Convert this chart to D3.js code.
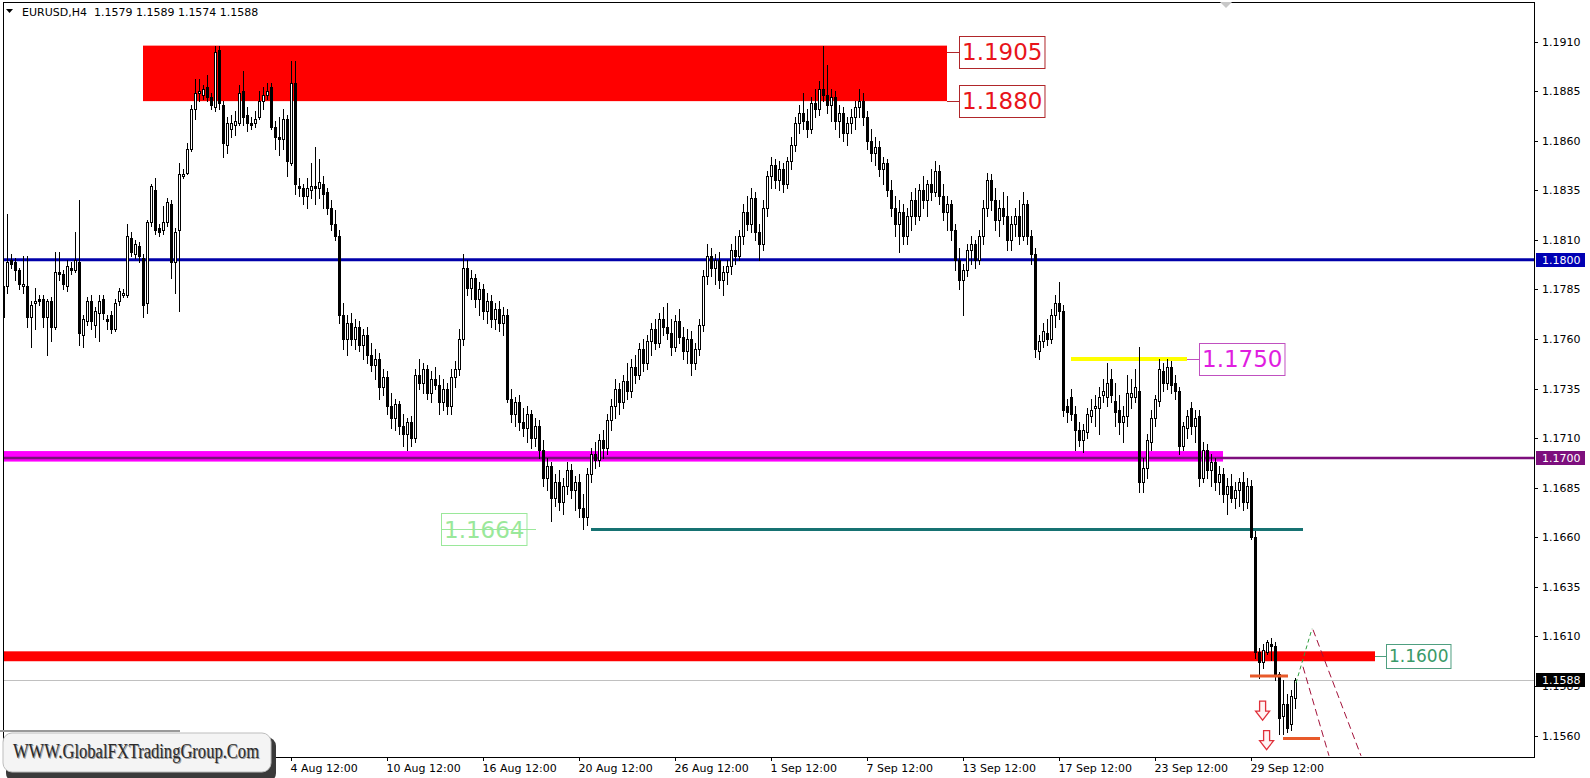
<!DOCTYPE html>
<html><head><meta charset="utf-8">
<script src="https://cdn.jsdelivr.net/npm/d3@7"></script>
<style>html,body{margin:0;padding:0;background:#fff;overflow:hidden}</style>
</head><body>
<svg id="c" width="1590" height="778" xmlns="http://www.w3.org/2000/svg"></svg>
<script>
// ---------- DATA ----------
const symbol = "EURUSD,H4";
const lastOHLC = [1.1579, 1.1589, 1.1574, 1.1588];
const priceTicks = [1.1910,1.1885,1.1860,1.1835,1.1810,1.1785,1.1760,1.1735,1.1710,1.1685,1.1660,1.1635,1.1610,1.1585,1.1560];
const timeTickBars = [72,96,120,144,168,192,216,240,264,288,312];
const timeTickLabels = ["4 Aug 12:00","10 Aug 12:00","16 Aug 12:00","20 Aug 12:00","26 Aug 12:00","1 Sep 12:00","7 Sep 12:00","13 Sep 12:00","17 Sep 12:00","23 Sep 12:00","29 Sep 12:00"];

// bars 0..81
const opensA =[1.1771,1.1787,1.1800,1.1799,1.1795,1.1787,1.1787,1.1771,1.1778,1.1780,1.1780,1.1771,1.1779,1.1766,1.1794,1.1793,1.1787,1.1796,1.1795,1.1799,1.1762,1.1769,1.1779,1.1767,1.1773,1.1780,1.1770,1.1772,1.1765,1.1779,1.1782,1.1782,1.1811,1.1803,1.1807,1.1801,1.1778,1.1819,1.1835,1.1816,1.1815,1.1819,1.1828,1.1799,1.1815,1.1842,1.1844,1.1856,1.1876,1.1884,1.1883,1.1887,1.1882,1.1877,1.1906,1.1878,1.1858,1.1866,1.1868,1.1869,1.1885,1.1873,1.1869,1.1869,1.1872,1.1880,1.1883,1.1887,1.1867,1.1862,1.1861,1.1871,1.1849,1.1889,1.1837,1.1836,1.1832,1.1835,1.1837,1.1836,1.1838,1.1834];
const highsA =[1.1789,1.1823,1.1803,1.1801,1.1796,1.1802,1.1802,1.1779,1.1786,1.1782,1.1782,1.1780,1.1781,1.1804,1.1804,1.1795,1.1800,1.1799,1.1814,1.1830,1.1772,1.1781,1.1782,1.1776,1.1782,1.1782,1.1772,1.1774,1.1780,1.1786,1.1785,1.1818,1.1814,1.1810,1.1809,1.1803,1.1820,1.1838,1.1841,1.1818,1.1827,1.1831,1.1830,1.1816,1.1849,1.1846,1.1859,1.1878,1.1891,1.1891,1.1888,1.1893,1.1884,1.1908,1.1908,1.1880,1.1872,1.1873,1.1875,1.1888,1.1895,1.1877,1.1872,1.1875,1.1885,1.1887,1.1889,1.1889,1.1870,1.1872,1.1876,1.1873,1.1900,1.1900,1.1841,1.1838,1.1841,1.1849,1.1857,1.1851,1.1842,1.1836];
const lowsA  =[1.1763,1.1783,1.1796,1.1790,1.1785,1.1783,1.1766,1.1756,1.1765,1.1777,1.1766,1.1752,1.1759,1.1765,1.1790,1.1785,1.1784,1.1793,1.1794,1.1757,1.1756,1.1767,1.1765,1.1761,1.1759,1.1770,1.1765,1.1763,1.1764,1.1777,1.1781,1.1781,1.1802,1.1801,1.1799,1.1771,1.1773,1.1817,1.1813,1.1812,1.1813,1.1817,1.1791,1.1783,1.1774,1.1841,1.1843,1.1855,1.1871,1.1880,1.1881,1.1880,1.1876,1.1875,1.1876,1.1852,1.1854,1.1862,1.1863,1.1868,1.1868,1.1865,1.1866,1.1867,1.1871,1.1876,1.1881,1.1866,1.1856,1.1853,1.1856,1.1842,1.1848,1.1833,1.1832,1.1828,1.1826,1.1831,1.1828,1.1831,1.1826,1.1823];
const closesA=[1.1787,1.1799,1.1798,1.1795,1.1788,1.1788,1.1771,1.1777,1.1779,1.1779,1.1771,1.1779,1.1766,1.1794,1.1793,1.1788,1.1797,1.1795,1.1800,1.1763,1.1770,1.1779,1.1769,1.1774,1.1779,1.1773,1.1769,1.1765,1.1778,1.1784,1.1783,1.1812,1.1804,1.1808,1.1802,1.1777,1.1819,1.1837,1.1815,1.1814,1.1819,1.1829,1.1799,1.1814,1.1843,1.1843,1.1856,1.1876,1.1884,1.1885,1.1886,1.1882,1.1878,1.1905,1.1879,1.1859,1.1869,1.1869,1.1870,1.1884,1.1872,1.1869,1.1868,1.1871,1.1880,1.1883,1.1885,1.1867,1.1862,1.1861,1.1871,1.1850,1.1889,1.1838,1.1836,1.1832,1.1836,1.1837,1.1836,1.1839,1.1833,1.1826];

// bars 82..311
const opensB =[
1.1826,1.1818,1.1812,1.1772,1.1760,1.1768,1.1760,1.1766,1.1757,1.1762,
1.1752,1.1747,1.1750,1.1736,1.1741,1.1726,1.1720,1.1727,1.1716,1.1712,
1.1718,1.1710,1.1742,1.1738,1.1745,1.1733,1.1740,1.1737,1.1728,1.1735,
1.1726,1.1741,1.1745,1.1760,1.1796,1.1786,1.1791,1.1780,1.1785,1.1774,
1.1779,1.1770,1.1775,1.1768,1.1772,1.1730,1.1722,1.1728,1.1718,1.1715,
1.1722,1.1710,1.1716,1.1704,1.1690,1.1696,1.1680,1.1688,1.1678,1.1686,
1.1694,1.1684,1.1688,1.1675,1.1670,1.1692,1.1702,1.1699,1.1709,1.1705,
1.1719,1.1726,1.1735,1.1728,1.1739,1.1734,1.1746,1.1742,1.1755,1.1748,
1.1759,1.1765,1.1758,1.1770,1.1766,1.1763,1.1756,1.1769,1.1761,1.1754,
1.1760,1.1748,1.1755,1.1767,1.1792,1.1802,1.1796,1.1800,1.1790,1.1794,
1.1797,1.1805,1.1802,1.1812,1.1824,1.1818,1.1831,1.1814,1.1808,1.1826,
1.1842,1.1848,1.1840,1.1846,1.1838,1.1850,1.1858,1.1869,1.1874,1.1870,
1.1866,1.1879,1.1876,1.1886,1.1883,1.1878,1.1882,1.1870,1.1874,1.1864,
1.1869,1.1872,1.1877,1.1880,1.1872,1.1860,1.1854,1.1857,1.1846,1.1849,
1.1835,1.1826,1.1818,1.1824,1.1812,1.1822,1.1830,1.1822,1.1835,1.1830,
1.1838,1.1834,1.1845,1.1832,1.1824,1.1828,1.1815,1.1800,1.1790,1.1795,
1.1805,1.1808,1.1800,1.1812,1.1826,1.1840,1.1830,1.1820,1.1826,1.1822,
1.1810,1.1818,1.1822,1.1812,1.1828,1.1812,1.1803,1.1754,1.1759,1.1763,
1.1760,1.1772,1.1778,1.1774,1.1726,1.1731,1.1722,1.1714,1.1709,1.1713,
1.1721,1.1725,1.1725,1.1732,1.1731,1.1740,1.1729,1.1724,1.1718,1.1721,
1.1731,1.1731,1.1734,1.1688,1.1695,1.1708,1.1720,1.1729,1.1744,1.1738,
1.1746,1.1738,1.1734,1.1706,1.1715,1.1725,1.1716,1.1721,1.1690,1.1704,
1.1694,1.1698,1.1688,1.1692,1.1682,1.1686,1.1680,1.1684,1.1688,1.1678];
const highsB =[
1.1830,1.1825,1.1815,1.1778,1.1772,1.1773,1.1770,1.1769,1.1765,1.1766,
1.1758,1.1755,1.1753,1.1745,1.1744,1.1733,1.1730,1.1729,1.1722,1.1720,
1.1721,1.1745,1.1750,1.1748,1.1747,1.1744,1.1746,1.1742,1.1740,1.1738,
1.1745,1.1749,1.1765,1.1803,1.1800,1.1795,1.1793,1.1789,1.1788,1.1783,
1.1782,1.1778,1.1779,1.1776,1.1775,1.1735,1.1731,1.1732,1.1725,1.1726,
1.1724,1.1720,1.1719,1.1709,1.1700,1.1698,1.1692,1.1694,1.1690,1.1698,
1.1697,1.1691,1.1692,1.1682,1.1695,1.1705,1.1708,1.1712,1.1714,1.1722,
1.1730,1.1740,1.1738,1.1742,1.1748,1.1750,1.1752,1.1758,1.1760,1.1762,
1.1768,1.1770,1.1773,1.1776,1.1778,1.1770,1.1772,1.1775,1.1766,1.1765,
1.1764,1.1758,1.1770,1.1795,1.1808,1.1806,1.1803,1.1804,1.1797,1.1800,
1.1808,1.1812,1.1815,1.1828,1.1832,1.1836,1.1834,1.1818,1.1830,1.1845,
1.1852,1.1851,1.1850,1.1849,1.1852,1.1862,1.1872,1.1878,1.1884,1.1876,
1.1882,1.1886,1.1890,1.1908,1.1898,1.1886,1.1885,1.1878,1.1877,1.1872,
1.1876,1.1880,1.1886,1.1884,1.1875,1.1866,1.1862,1.1860,1.1852,1.1851,
1.1840,1.1832,1.1830,1.1828,1.1826,1.1834,1.1836,1.1838,1.1842,1.1840,
1.1846,1.1850,1.1848,1.1838,1.1832,1.1830,1.1818,1.1806,1.1798,1.1808,
1.1812,1.1810,1.1815,1.1830,1.1844,1.1843,1.1836,1.1830,1.1834,1.1832,
1.1822,1.1826,1.1830,1.1834,1.1830,1.1815,1.1806,1.1762,1.1768,1.1770,
1.1775,1.1782,1.1789,1.1777,1.1730,1.1735,1.1726,1.1718,1.1717,1.1725,
1.1730,1.1732,1.1736,1.1740,1.1748,1.1745,1.1738,1.1732,1.1726,1.1742,
1.1740,1.1745,1.1756,1.1700,1.1712,1.1724,1.1732,1.1750,1.1748,1.1750,
1.1749,1.1742,1.1736,1.1718,1.1724,1.1728,1.1724,1.1724,1.1708,1.1707,
1.1702,1.1700,1.1696,1.1695,1.1690,1.1692,1.1688,1.1690,1.1693,1.1690];
const lowsB =[
1.1815,1.1810,1.1768,1.1755,1.1752,1.1757,1.1755,1.1754,1.1750,1.1748,
1.1744,1.1740,1.1730,1.1732,1.1722,1.1715,1.1714,1.1712,1.1706,1.1704,
1.1706,1.1708,1.1735,1.1733,1.1730,1.1728,1.1735,1.1722,1.1724,1.1722,
1.1722,1.1736,1.1742,1.1757,1.1782,1.1780,1.1776,1.1772,1.1770,1.1768,
1.1766,1.1765,1.1764,1.1762,1.1728,1.1718,1.1716,1.1714,1.1711,1.1708,
1.1705,1.1706,1.1700,1.1686,1.1684,1.1668,1.1676,1.1674,1.1672,1.1682,
1.1680,1.1674,1.1670,1.1664,1.1666,1.1688,1.1695,1.1696,1.1700,1.1702,
1.1714,1.1720,1.1722,1.1725,1.1730,1.1731,1.1738,1.1740,1.1744,1.1745,
1.1752,1.1755,1.1756,1.1762,1.1760,1.1752,1.1754,1.1758,1.1750,1.1748,
1.1742,1.1745,1.1752,1.1764,1.1788,1.1792,1.1788,1.1786,1.1782,1.1788,
1.1793,1.1798,1.1800,1.1808,1.1815,1.1814,1.1810,1.1800,1.1805,1.1822,
1.1836,1.1836,1.1835,1.1834,1.1836,1.1846,1.1855,1.1864,1.1866,1.1862,
1.1864,1.1872,1.1873,1.1880,1.1874,1.1870,1.1866,1.1862,1.1860,1.1858,
1.1864,1.1866,1.1872,1.1868,1.1856,1.1850,1.1848,1.1842,1.1838,1.1832,
1.1822,1.1812,1.1804,1.1808,1.1808,1.1815,1.1818,1.1820,1.1826,1.1822,
1.1830,1.1832,1.1828,1.1820,1.1815,1.1810,1.1795,1.1785,1.1772,1.1792,
1.1798,1.1796,1.1798,1.1808,1.1822,1.1825,1.1815,1.1812,1.1818,1.1805,
1.1805,1.1812,1.1808,1.1810,1.1808,1.1798,1.1751,1.1750,1.1756,1.1757,
1.1758,1.1766,1.1770,1.1721,1.1718,1.1719,1.1704,1.1706,1.1703,1.1710,
1.1718,1.1716,1.1712,1.1728,1.1726,1.1728,1.1716,1.1712,1.1708,1.1716,
1.1725,1.1728,1.1683,1.1683,1.1690,1.1704,1.1716,1.1726,1.1734,1.1735,
1.1733,1.1730,1.1702,1.1704,1.1710,1.1712,1.1708,1.1686,1.1688,1.1690,
1.1686,1.1684,1.1682,1.1678,1.1672,1.1678,1.1675,1.1676,1.1674,1.1675];
const closesB =[
1.1818,1.1812,1.1772,1.1760,1.1768,1.1760,1.1766,1.1757,1.1762,1.1752,
1.1747,1.1750,1.1736,1.1741,1.1726,1.1720,1.1727,1.1716,1.1712,1.1718,
1.1710,1.1742,1.1738,1.1745,1.1733,1.1740,1.1737,1.1728,1.1735,1.1726,
1.1741,1.1745,1.1760,1.1796,1.1786,1.1791,1.1780,1.1785,1.1774,1.1779,
1.1770,1.1775,1.1768,1.1772,1.1730,1.1722,1.1728,1.1718,1.1715,1.1722,
1.1710,1.1716,1.1704,1.1690,1.1696,1.1680,1.1688,1.1678,1.1686,1.1694,
1.1684,1.1688,1.1675,1.1670,1.1692,1.1702,1.1699,1.1709,1.1705,1.1719,
1.1726,1.1735,1.1728,1.1739,1.1734,1.1746,1.1742,1.1755,1.1748,1.1759,
1.1765,1.1758,1.1770,1.1766,1.1763,1.1756,1.1769,1.1761,1.1754,1.1760,
1.1748,1.1755,1.1767,1.1792,1.1802,1.1796,1.1800,1.1790,1.1794,1.1797,
1.1805,1.1802,1.1812,1.1824,1.1818,1.1831,1.1814,1.1808,1.1826,1.1842,
1.1848,1.1840,1.1846,1.1838,1.1850,1.1858,1.1869,1.1874,1.1870,1.1866,
1.1879,1.1876,1.1886,1.1883,1.1878,1.1882,1.1870,1.1874,1.1864,1.1869,
1.1872,1.1877,1.1880,1.1872,1.1860,1.1854,1.1857,1.1846,1.1849,1.1835,
1.1826,1.1818,1.1824,1.1812,1.1822,1.1830,1.1822,1.1835,1.1830,1.1838,
1.1834,1.1845,1.1832,1.1824,1.1828,1.1815,1.1800,1.1790,1.1795,1.1805,
1.1808,1.1800,1.1812,1.1826,1.1840,1.1830,1.1820,1.1826,1.1822,1.1810,
1.1818,1.1822,1.1812,1.1828,1.1812,1.1803,1.1755,1.1759,1.1764,1.1760,
1.1772,1.1778,1.1774,1.1724,1.1723,1.1722,1.1714,1.1709,1.1714,1.1722,
1.1724,1.1726,1.1731,1.1734,1.1738,1.1732,1.1723,1.1718,1.1721,1.1733,
1.1733,1.1736,1.1688,1.1695,1.1709,1.1720,1.1730,1.1745,1.1738,1.1746,
1.1737,1.1734,1.1706,1.1716,1.1721,1.1716,1.1720,1.1690,1.1704,1.1694,
1.1698,1.1688,1.1692,1.1682,1.1686,1.1680,1.1684,1.1688,1.1678,1.1686];

// bars 312..323
const opensC =[1.1686,1.1660,1.1602,1.1597,1.1602,1.1606,1.1605,1.1591,1.1570,1.1576,1.1566,1.1579];
const highsC =[1.1689,1.1663,1.1604,1.1606,1.1608,1.1609,1.1607,1.1592,1.1588,1.1581,1.1583,1.1589];
const lowsC  =[1.1659,1.1599,1.1589,1.1594,1.1601,1.1598,1.1588,1.1561,1.1561,1.1562,1.1563,1.1574];
const closesC=[1.1660,1.1602,1.1597,1.1603,1.1607,1.1605,1.1590,1.1569,1.1576,1.1564,1.1580,1.1588];

// annotation levels
const blueLevel = 1.1800;
const purpleLevel = 1.1700;
const magentaBand = {b0:0, b1:305, top:1.17035, bottom:1.16982};
const redZone = {b0:35, b1:236, top:1.1908, bottom:1.1880};
const redBand = {b0:0, b1:343, top:1.16025, bottom:1.15975};
const yellowLine = {b0:267, b1:296, price:1.1750};
const tealLine = {b0:147, b1:325, price:1.1664};
const textLabels = [
  {text:"1.1905", bar:239, price:1.1905, from:236, color:"#e8141a", border:"#b0262a", size:23},
  {text:"1.1880", bar:239, price:1.1880, from:236, color:"#e8141a", border:"#b0262a", size:23},
  {text:"1.1750", bar:299, price:1.1750, from:296, color:"#e01ee0", border:"#c050c0", size:23},
  {text:"1.1664", bar:109.5, price:1.1664, from:133.25, color:"#9ae89a", border:"#9ae89a", size:23},
  {text:"1.1600", bar:345.75, price:1.1600, from:343, color:"#3a9a68", border:"#4f9f80", size:17}
];
const orangeLines = [{b0:311.75,b1:321.25,price:1.1590},{b0:320,b1:329.25,price:1.15585}];
const downArrows = [{bar:314.9,price:1.15774},{bar:315.9,price:1.15625}];
const greenDash = [{bar:323.25,price:1.15866},{bar:327.25,price:1.16139}];
const redDash1 = [{bar:327.5,price:1.16134},{bar:339.5,price:1.15498}];
const redDash2 = [{bar:325,price:1.15947},{bar:331.5,price:1.15498}];

// ---------- CHART ----------
const opens = opensA.concat(opensB, opensC);
const highs = highsA.concat(highsB, highsC);
const lows = lowsA.concat(lowsB, lowsC);
const closes = closesA.concat(closesB, closesC);

const svg = d3.select("#c");
const L=3, R=1534, T=2, B=757;
const xs = d3.scaleLinear().domain([0,382.75]).range([L,R]);
const ys = d3.scaleLinear().domain([1.15492,1.19300]).range([B,T]);
const FONT = "'DejaVu Sans', Verdana, sans-serif";

svg.append("rect").attr("x",0).attr("y",0).attr("width",1590).attr("height",778).attr("fill","#fff");
const plot = svg.append("g");
svg.append("clipPath").attr("id","pc").append("rect").attr("x",L).attr("y",T).attr("width",R-L).attr("height",B-T);
const pg = plot.append("g").attr("clip-path","url(#pc)");

function band(z,col){
  pg.append("rect").attr("x",xs(z.b0)).attr("y",ys(z.top))
    .attr("width",xs(z.b1)-xs(z.b0)).attr("height",ys(z.bottom)-ys(z.top)).attr("fill",col);
}
band(redZone,"#ff0000");
band(magentaBand,"#ff00ff");
band(redBand,"#ff0000");
pg.append("line").attr("x1",L).attr("x2",R).attr("y1",ys(purpleLevel)).attr("y2",ys(purpleLevel)).attr("stroke","#7d0f7d").attr("stroke-width",2.5);
pg.append("line").attr("x1",L).attr("x2",R).attr("y1",ys(blueLevel)).attr("y2",ys(blueLevel)).attr("stroke","#0000aa").attr("stroke-width",3);
const lastClose = closes[closes.length-1];
pg.append("line").attr("x1",L).attr("x2",R).attr("y1",Math.round(ys(lastClose))+0.5).attr("y2",Math.round(ys(lastClose))+0.5).attr("stroke","#c0c0c0").attr("stroke-width",1);
pg.append("line").attr("x1",xs(yellowLine.b0)).attr("x2",xs(yellowLine.b1)).attr("y1",ys(yellowLine.price)).attr("y2",ys(yellowLine.price)).attr("stroke","#ffff00").attr("stroke-width",4);
pg.append("line").attr("x1",xs(tealLine.b0)).attr("x2",xs(tealLine.b1)).attr("y1",ys(tealLine.price)).attr("y2",ys(tealLine.price)).attr("stroke","#167272").attr("stroke-width",3);

// candles
const cg = pg.append("g").attr("shape-rendering","crispEdges");
for (let i=0;i<opens.length;i++){
  const o=opens[i], h=highs[i], l=lows[i], c=closes[i];
  const cx = Math.round(xs(i));
  cg.append("line").attr("x1",cx+0.5).attr("x2",cx+0.5).attr("y1",Math.round(ys(h))).attr("y2",Math.round(ys(l))+1).attr("stroke","#000").attr("stroke-width",1);
  const top=Math.round(ys(Math.max(o,c))), bot=Math.round(ys(Math.min(o,c)));
  if (bot-top<1){
    cg.append("line").attr("x1",cx-1).attr("x2",cx+2).attr("y1",top+0.5).attr("y2",top+0.5).attr("stroke","#000");
  } else {
    cg.append("rect").attr("x",cx-0.5).attr("y",top+0.5).attr("width",2).attr("height",bot-top)
      .attr("fill", c>=o ? "#fff" : "#000").attr("stroke","#000").attr("stroke-width",1);
  }
}

orangeLines.forEach(d=>pg.append("line").attr("x1",xs(d.b0)).attr("x2",xs(d.b1)).attr("y1",ys(d.price)).attr("y2",ys(d.price)).attr("stroke","#e85a2a").attr("stroke-width",3));
const ln = d3.line().x(d=>xs(d.bar)).y(d=>ys(d.price));
pg.append("path").attr("d",ln(greenDash)).attr("fill","none").attr("stroke","#2e9e3e").attr("stroke-width",1).attr("stroke-dasharray","4,3");
pg.append("path").attr("d",ln(redDash1)).attr("fill","none").attr("stroke","#a3123a").attr("stroke-width",1).attr("stroke-dasharray","7,4");
pg.append("path").attr("d",ln(redDash2)).attr("fill","none").attr("stroke","#a3123a").attr("stroke-width",1).attr("stroke-dasharray","7,4");
downArrows.forEach(d=>{
  const x=xs(d.bar), y=ys(d.price);
  const p=[[x-3,y],[x+3,y],[x+3,y+10],[x+7,y+10],[x,y+19],[x-7,y+10],[x-3,y+10]];
  pg.append("path").attr("d","M"+p.map(q=>q.join(",")).join("L")+"Z").attr("fill","#fff4f4").attr("stroke","#e0303a").attr("stroke-width",1.3);
});

textLabels.forEach(d=>{
  const x0=xs(d.bar), yc=ys(d.price);
  const g=plot.append("g");
  const t=g.append("text").attr("x",x0+3).attr("y",yc).attr("dy","0.36em").attr("font-family",FONT).attr("font-size",d.size).attr("fill",d.color).text(d.text);
  const bb=t.node().getBBox();
  const hh = d.size>20 ? 32 : 24;
  g.insert("rect","text").attr("x",x0+0.5).attr("y",Math.round(yc-hh/2)+0.5).attr("width",bb.width+5).attr("height",hh).attr("fill","none").attr("stroke",d.border).attr("stroke-width",1);
  g.append("line").attr("x1",xs(d.from)).attr("x2",x0).attr("y1",Math.round(yc)+0.5).attr("y2",Math.round(yc)+0.5).attr("stroke",d.border).attr("stroke-width",1);
});

// frame
svg.append("rect").attr("x",L+0.5).attr("y",T+0.5).attr("width",R-L).attr("height",B-T).attr("fill","none").attr("stroke","#000").attr("stroke-width",1).attr("shape-rendering","crispEdges");

// right axis
const ax = svg.append("g").attr("font-family",FONT).attr("font-size",11).attr("shape-rendering","crispEdges");
priceTicks.forEach(p=>{
  const y=Math.round(ys(p))+0.5;
  ax.append("line").attr("x1",R).attr("x2",R+4).attr("y1",y).attr("y2",y).attr("stroke","#000");
  ax.append("text").attr("x",R+8).attr("y",y).attr("dy","0.36em").attr("fill","#000").text(p.toFixed(4));
});
function priceTag(p,bg){
  const y=ys(p);
  ax.append("rect").attr("x",R+2).attr("y",Math.round(y)-7).attr("width",49).attr("height",14).attr("fill",bg);
  ax.append("text").attr("x",R+8).attr("y",y).attr("dy","0.36em").attr("fill","#fff").text(p.toFixed(4));
}
priceTag(blueLevel,"#0000b4");
priceTag(purpleLevel,"#7d0f7d");
priceTag(lastClose,"#000");

// bottom axis
timeTickBars.forEach((b,k)=>{
  const x=Math.round(xs(b))+0.5;
  ax.append("line").attr("x1",x).attr("x2",x).attr("y1",B).attr("y2",B+4).attr("stroke","#000");
  ax.append("text").attr("x",x-1).attr("y",B+15).attr("fill","#000").text(timeTickLabels[k]);
});

// header
svg.append("path").attr("d","M6,9L13,9L9.5,13Z").attr("fill","#000");
svg.append("text").attr("x",22).attr("y",16).attr("font-family",FONT).attr("font-size",11).attr("fill","#000")
  .attr("xml:space","preserve").text(symbol+"  "+lastOHLC.map(v=>v.toFixed(4)).join(" "));
svg.append("path").attr("d","M1220,2L1232,2L1226,8Z").attr("fill","#c8c8c8");

// logo
const lg = svg.append("g");
lg.append("rect").attr("x",0).attr("y",730).attr("width",180).attr("height",2).attr("fill","#9a9a9a");
lg.append("rect").attr("x",6).attr("y",737).attr("width",270).attr("height",45).attr("rx",9).attr("fill","#3a3a3a");
lg.append("rect").attr("x",3).attr("y",733).attr("width",268).attr("height",39).attr("rx",9).attr("fill","#f4f4f4").attr("stroke","#bdbdbd");
lg.append("text").attr("x",14).attr("y",759).attr("font-family","'Liberation Serif', 'Times New Roman', serif").attr("font-size",20)
  .attr("fill","#9a9a9a").attr("textLength",246).attr("lengthAdjust","spacingAndGlyphs").text("WWW.GlobalFXTradingGroup.Com");
lg.append("text").attr("x",13).attr("y",758).attr("font-family","'Liberation Serif', 'Times New Roman', serif").attr("font-size",20)
  .attr("fill","#2a2a2a").attr("textLength",246).attr("lengthAdjust","spacingAndGlyphs").text("WWW.GlobalFXTradingGroup.Com");
</script>
</body></html>
